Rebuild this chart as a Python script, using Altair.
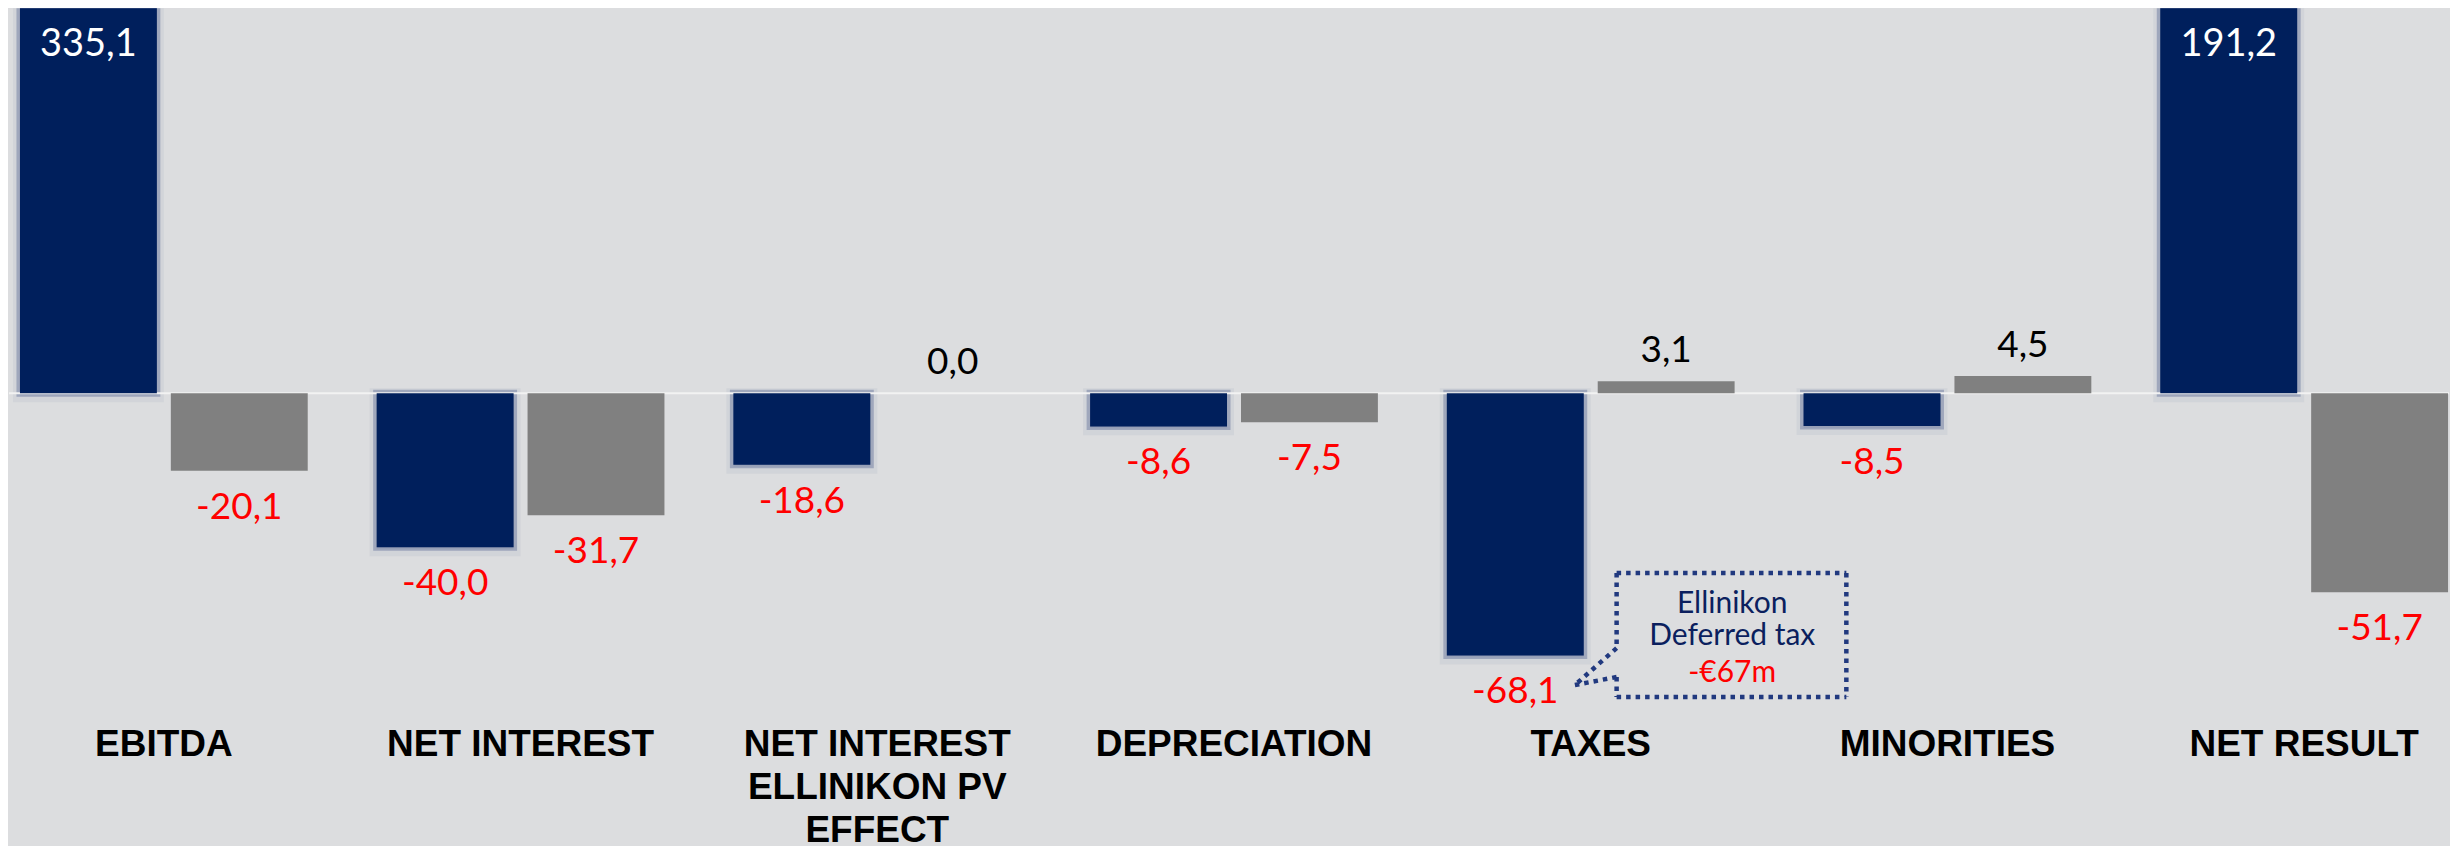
import altair as alt
import pandas as pd

# ---------------- data ----------------
categories = [
    "EBITDA",
    "NET INTEREST",
    "NET INTEREST\nELLINIKON PV\nEFFECT",
    "DEPRECIATION",
    "TAXES",
    "MINORITIES",
    "NET RESULT",
]
navy_values = [335.1, -40.0, -18.6, -8.6, -68.1, -8.5, 191.2]
gray_values = [-20.1, -31.7, 0.0, -7.5, 3.1, 4.5, -51.7]
series_order = ["A", "B"]

note_title = ["Ellinikon", "Deferred tax"]
note_amount = "-€67m"
# callout geometry in data units (x: category-step units, y: value units)
note_text_x = 4.80
note_title_y = -57.1
note_amount_y = -75.0
box_x = [4.476, 5.120]
box_y = [-46.7, -78.9]
pointer_gap_y = [-66.2, -73.7]
pointer_tip = (4.359, -75.8)

# ---------------- styling constants ----------------
NAVY = "#001F5C"
GRAY = "#808080"
BG = "#DCDDDF"
Y_DOMAIN = [-83, 100]
U_DOMAIN = [-0.0308, 6.8095]
W, H = 2442, 705

rows = []
for c, a, b in zip(categories, navy_values, gray_values):
    rows.append({"cat": c, "series": "A", "value": a})
    rows.append({"cat": c, "series": "B", "value": b})
df = pd.DataFrame(rows)

label_expr = "replace(replace(format(datum.value, '.1f'), '.', ','), '\u2212', '-')"

yscale = alt.Scale(domain=Y_DOMAIN, nice=False, zero=False)

base = alt.Chart(df).transform_calculate(lab=label_expr).encode(
    x=alt.X(
        "cat:N",
        sort=categories,
        scale=alt.Scale(paddingInner=0.1933, paddingOuter=0.0167, align=0.92),
        axis=alt.Axis(
            title=None,
            labelAngle=0,
            labelFont="Liberation Sans",
            labelFontWeight="bold",
            labelFontSize=37,
            labelColor="#000000",
            labelPadding=14,
            labelLimit=800,
            labelLineHeight=43,
            domain=False,
            ticks=False,
            grid=False,
            labelExpr="split(datum.label, '\\n')",
        ),
    ),
    xOffset=alt.XOffset(
        "series:N", sort=series_order,
        scale=alt.Scale(paddingInner=0.0927, paddingOuter=0),
    ),
)

color_enc = alt.Color(
    "series:N",
    scale=alt.Scale(domain=series_order, range=[NAVY, GRAY]),
    legend=None,
)

shadow_outer = base.transform_filter("datum.series == 'A'").mark_bar(
    clip=True, color="#8a95b0", opacity=0.35, stroke="#8a95b0",
    strokeWidth=14, strokeOpacity=0.35,
).encode(y=alt.Y("value:Q", scale=yscale, axis=None), yOffset=alt.value(2))

shadow_inner = base.transform_filter("datum.series == 'A'").mark_bar(
    clip=True, color="#7d89a8", stroke="#7d89a8",
    strokeWidth=7, strokeOpacity=0.6,
).encode(y=alt.Y("value:Q", scale=yscale, axis=None))

zero_line = alt.Chart(pd.DataFrame({"zero": [0]})).mark_rule(
    color="#F2F2F2", strokeWidth=2
).encode(y=alt.Y("zero:Q", scale=yscale, axis=None))

bars = base.mark_bar(clip=True).encode(
    y=alt.Y("value:Q", scale=yscale, axis=None),
    color=color_enc,
)

txt_neg = base.transform_filter("datum.value < 0").mark_text(
    font="Lato", fontSize=37, baseline="top", dy=19, color="#FF0000"
).encode(y=alt.Y("value:Q", scale=yscale, axis=None), text="lab:N")

txt_pos = base.transform_filter("datum.series == 'B' && datum.value >= 0").mark_text(
    font="Lato", fontSize=37, baseline="alphabetic", dy=-19, color="#000000"
).encode(y=alt.Y("value:Q", scale=yscale, axis=None), text="lab:N")

txt_top = base.transform_filter("datum.series == 'A' && datum.value > 0").transform_calculate(
    ytop=f"min(datum.value, {Y_DOMAIN[1]})"
).mark_text(
    font="Lato", fontSize=38, baseline="top", dy=18, color="#FFFFFF"
).encode(y=alt.Y("ytop:Q", scale=yscale, axis=None), text="lab:N")

bar_layer = alt.layer(shadow_outer, shadow_inner, zero_line, bars, txt_neg, txt_pos, txt_top)

# ---------------- callout ----------------
x0, x1 = box_x
y0, y1 = box_y
g0, g1 = pointer_gap_y
tx, ty = pointer_tip
segs = pd.DataFrame([
    {"u": x0, "v": y0, "u2": x1, "v2": y0},
    {"u": x1, "v": y0, "u2": x1, "v2": y1},
    {"u": x0, "v": y1, "u2": x1, "v2": y1},
    {"u": x0, "v": y0, "u2": x0, "v2": g0},
    {"u": x0, "v": g1, "u2": x0, "v2": y1},
    {"u": x0, "v": g0, "u2": tx, "v2": ty},
    {"u": tx, "v": ty, "u2": x0, "v2": g1},
])
uscale = alt.Scale(domain=U_DOMAIN, nice=False, zero=False)

callout = alt.Chart(segs).mark_rule(
    color="#21397F", strokeWidth=4.5, strokeDash=[4.5, 5], strokeCap="butt"
).encode(
    x=alt.X("u:Q", scale=uscale, axis=None),
    x2="u2:Q",
    y=alt.Y("v:Q", scale=yscale, axis=None),
    y2="v2:Q",
)

note_df = pd.DataFrame({
    "u": [note_text_x, note_text_x],
    "v": [note_title_y, note_amount_y],
    "t": ["\n".join(note_title), note_amount],
    "c": ["#0B1F5E", "#FF0000"],
})
note = alt.Chart(note_df).mark_text(
    font="Lato", fontSize=30, baseline="alphabetic", align="center",
    lineBreak="\n", lineHeight=32,
).encode(
    x=alt.X("u:Q", scale=uscale, axis=None),
    y=alt.Y("v:Q", scale=yscale, axis=None),
    text="t:N",
    color=alt.Color("c:N", scale=None),
)

annot_layer = alt.layer(callout, note)

chart = (
    alt.layer(bar_layer, annot_layer)
    .resolve_scale(x="independent")
    .properties(
        width=W,
        height=H,
        padding=0,
        background=BG,
        usermeta={"embedOptions": {"defaultStyle": f"html,body{{background:{BG};overflow:hidden}}"}},
    )
    .configure_view(stroke=None)
)

chart.save("out.html", embed_options={"renderer": "svg", "actions": False})
